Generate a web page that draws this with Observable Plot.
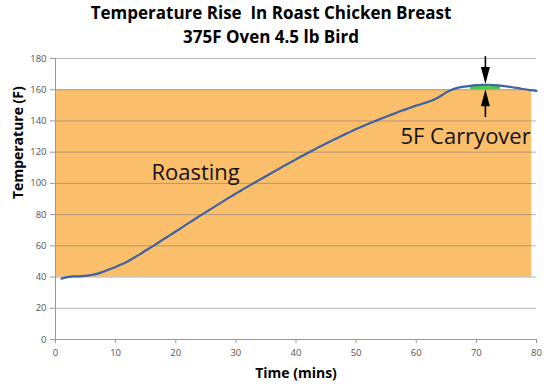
<!DOCTYPE html>
<html>
<head>
<meta charset="utf-8">
<script src="https://cdn.jsdelivr.net/npm/d3@7"></script>
<script src="https://cdn.jsdelivr.net/npm/@observablehq/plot@0.6"></script>
<style>
  body { margin: 0; background: #fff; }
  #title { width: 542px; padding-right: 8px; padding-top: 1px; height: 49px; text-align: center; font-family: "Open Sans", sans-serif; font-weight: bold; font-size: 17px; line-height: 24px; white-space: pre; color: #000; }
</style>
</head>
<body>
<div id="title">Temperature Rise  In Roast Chicken Breast
375F Oven 4.5 lb Bird</div>
<div id="chart"></div>
<script>
const time = [1,2,3,4,5,6,7,8,9,10,11,12,13,14,15,16,17,18,19,20,21,22,23,24,25,26,27,28,29,30,31,32,33,34,35,36,37,38,39,40,41,42,43,44,45,46,47,48,49,50,51,52,53,54,55,56,57,58,59,60,61,62,63,64,65,66,67,68,69,70,71,72,73,74,75,76,77,78,79,80];
const temp = [39,40,40.5,40.5,40.8,41.3,42.2,43.5,45,46.5,48.2,50,52.2,54.5,57,59.3,61.8,64.3,66.7,69.2,71.7,74.2,76.7,79.2,81.6,84,86.4,88.8,91.2,93.5,95.8,98,100.2,102.4,104.6,106.8,109,111.2,113.3,115.4,117.5,119.6,121.6,123.6,125.5,127.4,129.3,131.1,133,134.8,136.5,138.1,139.7,141.2,142.7,144.2,145.7,147.1,148.5,149.8,151,152.3,153.8,155.8,158.3,160.2,161.3,162,162.5,162.9,163.1,163.2,163,162.6,162.2,161.6,161,160.3,159.7,159.3];
const xTicks = [0,10,20,30,40,50,60,70,80];
const yTicks = [0,20,40,60,80,100,120,140,160,180];
const roastZone = [{start: 0, end: 79.2, low: 40, high: 160}];
const carryoverSpan = [69.5, 74.5];
const labels = [
  {time: 23.3, temp: 107, text: "Roasting"},
  {time: 68.2, temp: 129.5, text: "5F Carryover"}
];
const arrowsDown = [{time: 71.5, from: 181.5, tip: 163.6}];
const arrowsUp = [{time: 71.5, from: 142.5, tip: 160.3}];

const data = time.map((t, i) => ({time: t, temp: temp[i]}));
const green = data.filter(d => d.time >= carryoverSpan[0] - 0.5 && d.time <= carryoverSpan[1] - 0.5);

const headDown = {draw(ctx) { ctx.moveTo(0, 0); ctx.lineTo(-4.5, -17); ctx.lineTo(4.5, -17); ctx.closePath(); }};
const headUp = {draw(ctx) { ctx.moveTo(0, 0); ctx.lineTo(-4.5, 17); ctx.lineTo(4.5, 17); ctx.closePath(); }};

const chart = Plot.plot({
  width: 550,
  height: 337,
  marginTop: 8,
  marginBottom: 48,
  marginLeft: 55,
  marginRight: 14,
  style: {fontFamily: "Open Sans, sans-serif", fontSize: "9.5px", color: "#555", background: "#fff"},
  x: {domain: [0, 80]},
  y: {domain: [0, 180]},
  marks: [
    Plot.rect(roastZone, {x1: "start", x2: "end", y1: "low", y2: "high", fill: "#FBBE6B"}),
    Plot.gridY(yTicks.filter(d => d > 0), {stroke: "#7a7a7a", strokeOpacity: 0.55, strokeWidth: 1}),
    Plot.areaY(green, {x: "time", y1: 160, y2: d => d.temp - 0.6, fill: "#4CC94C", curve: "monotone-x"}),
    Plot.axisX(xTicks, {tickSize: 4, tickPadding: 6, stroke: "#999", fill: "#555", label: null}),
    Plot.axisY(yTicks, {tickSize: 5, tickPadding: 4, stroke: "#999", fill: "#555", label: null}),
    Plot.ruleY([0], {stroke: "#999"}),
    Plot.ruleX([0], {stroke: "#999"}),
    Plot.line(data, {x: "time", y: "temp", stroke: "#3D63A1", strokeWidth: 2.2, curve: "monotone-x"}),
    Plot.link(arrowsDown, {x1: "time", x2: "time", y1: "from", y2: d => d.tip + 4, stroke: "#000", strokeWidth: 1.6}),
    Plot.dot(arrowsDown, {x: "time", y: "tip", symbol: headDown, fill: "#000"}),
    Plot.link(arrowsUp, {x1: "time", x2: "time", y1: "from", y2: d => d.tip - 4, stroke: "#000", strokeWidth: 1.6}),
    Plot.dot(arrowsUp, {x: "time", y: "tip", symbol: headUp, fill: "#000"}),
    Plot.text(labels, {x: "time", y: "temp", text: "text", fontSize: 22, fill: "#111"}),
    Plot.text(["Time (mins)"], {frameAnchor: "bottom", text: d => d, dy: 38, fontSize: 14, fontWeight: "bold", fill: "#000"}),
    Plot.text(["Temperature (F)"], {frameAnchor: "left", text: d => d, dx: -37, rotate: -90, fontSize: 14, fontWeight: "bold", fill: "#000"})
  ]
});
document.getElementById("chart").appendChild(chart);
</script>
</body>
</html>
